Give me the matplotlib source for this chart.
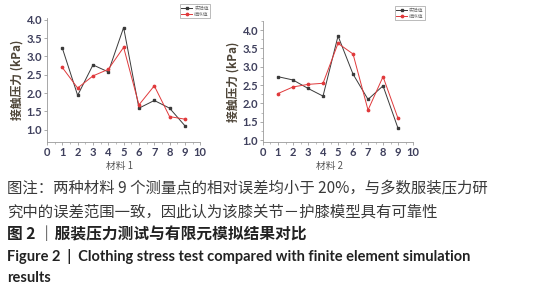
import numpy as np
import matplotlib
matplotlib.use('Agg')
import matplotlib.pyplot as plt
from matplotlib.ticker import MultipleLocator

plt.rcParams['font.family'] = ['Noto Sans CJK SC', 'DejaVu Sans']

# measurement points
points = [1, 2, 3, 4, 5, 6, 7, 8, 9]

# material 1
m1_test = [3.23, 1.94, 2.77, 2.58, 3.79, 1.59, 1.80, 1.59, 1.11]
m1_sim = [2.70, 2.14, 2.47, 2.65, 3.25, 1.68, 2.20, 1.36, 1.29]

# material 2
m2_test = [2.73, 2.64, 2.41, 2.20, 3.84, 2.80, 2.11, 2.48, 1.32]
m2_sim = [2.27, 2.45, 2.52, 2.55, 3.64, 3.35, 1.82, 2.73, 1.59]

series_labels = ['实验值', '模拟值']
x_titles = ['材料 1', '材料 2']
ylabel = '接触压力 (kPa)'

caption_lines = [
    '图注：两种材料 9 个测量点的相对误差均小于 20%，与多数服装压力研',
    '究中的误差范围一致，因此认为该膝关节－护膝模型具有可靠性',
]
fig_title_cn = '图 2 ｜服装压力测试与有限元模拟结果对比'
fig_title_en = ['Figure 2  |  Clothing stress test compared with finite element simulation',
                'results']

tick_color = '#3e3f5c'
black_c = '#3a3a3a'
red_c = '#e0393b'

fig = plt.figure(figsize=(5.34, 3.0), dpi=100)

ax1 = fig.add_axes([0.088, 0.527, 0.287, 0.413])
ax2 = fig.add_axes([0.4925, 0.527, 0.281, 0.403])

setups = [
    (ax1, m1_test, m1_sim, (0.67, 4.05), None, (1.065, 1.11)),
    (ax2, m2_test, m2_sim, (0.95, 4.25), 0.25, (1.08, 1.12)),
]

for ax, test, sim, ylim, minor, leg_pos in setups:
    ax.plot(points, test, color=black_c, lw=0.7, marker='s', ms=1.8, label=series_labels[0])
    ax.plot(points, sim, color=red_c, lw=0.7, marker='o', ms=1.7, label=series_labels[1])
    ax.set_xlim(0, 10)
    ax.set_ylim(*ylim)
    ax.set_xticks(range(0, 11))
    ax.set_yticks([1.0, 1.5, 2.0, 2.5, 3.0, 3.5, 4.0])
    ax.yaxis.set_major_formatter(matplotlib.ticker.FormatStrFormatter('%.1f'))
    ax.xaxis.set_minor_locator(MultipleLocator(0.5))
    if minor:
        ax.yaxis.set_minor_locator(MultipleLocator(minor))
    ax.tick_params(axis='both', labelsize=8, colors='#888888', labelcolor=tick_color,
                   length=2, width=0.5, pad=1.5)
    ax.tick_params(which='minor', length=1.2, width=0.4, colors='#888888')
    for lab in ax.get_xticklabels() + ax.get_yticklabels():
        lab.set_family(['Lato', 'DejaVu Sans'])
        lab.set_fontweight('bold')
    for s in ['top', 'right']:
        ax.spines[s].set_visible(False)
    for s in ['left', 'bottom']:
        ax.spines[s].set_color('#999999')
        ax.spines[s].set_linewidth(0.6)
    ax.set_ylabel(ylabel, fontsize=8.5, color='#4e4538', labelpad=2, fontweight='bold')
    leg = ax.legend(loc='upper right', bbox_to_anchor=leg_pos, fontsize=3.5,
                    frameon=True, fancybox=False, handlelength=2.2, borderpad=0.3,
                    labelspacing=0.2, handletextpad=0.4, borderaxespad=0)
    leg.get_frame().set_edgecolor('#888888')
    leg.get_frame().set_linewidth(0.5)
    for t in leg.get_texts():
        t.set_color('#777777')

fig.text(120 / 534, 1 - 166 / 300, x_titles[0], fontsize=7, color='#555555',
         ha='center', va='center')
fig.text(330 / 534, 1 - 166 / 300, x_titles[1], fontsize=7, color='#555555',
         ha='center', va='center')

y_pos = [189, 212, 234, 256, 278]
fig.text(7 / 534, 1 - y_pos[0] / 300, caption_lines[0], fontsize=11.1, color='#3a3a3a', va='center')
fig.text(7 / 534, 1 - y_pos[1] / 300, caption_lines[1], fontsize=11.1, color='#3a3a3a', va='center')
fig.text(7 / 534, 1 - y_pos[2] / 300, fig_title_cn, fontsize=11.3, color='#222222',
         va='center', fontweight='bold')
fig.text(7 / 534, 1 - y_pos[3] / 300, fig_title_en[0], fontsize=10.5, color='#222222',
         va='center', fontweight='bold', family=['Lato', 'DejaVu Sans'])
fig.text(7 / 534, 1 - y_pos[4] / 300, fig_title_en[1], fontsize=10.5, color='#222222',
         va='center', fontweight='bold', family=['Lato', 'DejaVu Sans'])

fig.savefig('out.png', dpi=100)
